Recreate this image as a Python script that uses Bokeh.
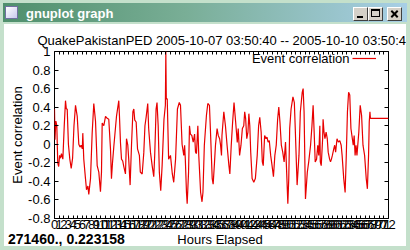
import math
from bokeh.plotting import figure
from bokeh.models import (Range1d, FixedTicker, LinearAxis, Label, Legend,
                          LegendItem, Div)
from bokeh.layouts import column, row
from bokeh.embed import file_html
from bokeh.resources import INLINE

# ---------------- data ----------------
hours = [
    0.0, 0.1, 0.3, 0.5, 0.7, 0.9, 1.1, 1.3, 1.5, 1.8, 2.1, 2.37, 2.55, 2.74,
    3.0, 3.3, 3.6, 3.9, 4.2, 4.53, 4.9, 5.24, 5.5, 5.75, 6.0, 6.1, 6.31, 6.68,
    6.9, 7.2, 7.39, 7.76, 8.12, 8.47, 8.84, 9.2, 9.55, 9.91, 10.13, 10.28,
    10.63, 11.0, 11.35, 11.7, 12.07, 12.28, 12.5, 12.78, 13.36, 13.86, 14.0,
    14.22, 14.44, 14.7, 14.94, 15.3, 15.52, 15.8, 16.0, 16.3, 16.6, 16.9,
    17.1, 17.3, 17.6, 17.9, 18.3, 18.5, 18.9, 19.25, 19.5, 19.75, 20.1, 20.3,
    20.7, 21.05, 21.4, 21.6, 21.9, 22.1, 22.35, 22.6, 22.9, 23.2, 23.6, 23.9,
    24.0, 24.1, 24.3, 24.6, 25.0, 25.4, 25.7, 26.1, 26.5, 26.9, 27.16, 27.5,
    27.87, 28.05, 28.2, 28.45, 28.6, 28.9, 29.1, 29.3, 29.6, 29.9, 30.2, 30.4,
    30.6, 30.9, 31.1, 31.5, 31.8, 32.0, 32.3, 32.75, 33.05, 33.4, 33.6, 34.0,
    34.2, 34.5, 34.7, 35.05, 35.3, 35.6, 35.8, 36.0, 36.1, 36.5, 36.85, 37.2,
    37.6, 37.8, 38.1, 38.4, 38.7, 39.05, 39.4, 39.6, 39.9, 40.2, 40.5, 40.8,
    41.0, 41.2, 41.45, 41.7, 41.9, 42.1, 42.3, 42.6, 42.96, 43.3, 43.7, 44.0,
    44.25, 44.55, 44.8, 45.0, 45.2, 45.3, 45.6, 45.8, 46.05, 46.3, 46.6, 46.9,
    47.2, 47.5, 47.8, 48.1, 48.35, 48.6, 48.9, 49.2, 49.5, 49.8, 50.1, 50.3,
    50.5, 50.7, 51.0, 51.4, 51.7, 51.9, 52.3, 52.7, 53.0, 53.4, 53.6, 53.8,
    54.1, 54.5, 54.8, 55.2, 55.5, 55.75, 55.96, 56.2, 56.5, 56.75, 56.97,
    57.2, 57.3, 57.5, 57.8, 57.9, 58.1, 58.3, 58.55, 58.8, 59.0, 59.3, 59.5,
    59.7, 59.9, 60.2, 60.4, 60.6, 60.9, 61.2, 61.5, 61.8, 62.0, 62.35, 62.65,
    62.9, 63.15, 63.4, 63.65, 63.9, 64.4, 64.6, 64.8, 65.0, 65.2, 65.6, 65.9,
    66.2, 66.5, 66.85, 67.2, 67.45, 67.7, 67.85, 68.0, 68.1, 72.0,
]
correlation = [
    0.38, 0.05, 0.25, 0.2, -0.2, -0.24, -0.12, -0.15, -0.1, -0.16, 0.2, 0.47,
    0.38, 0.38, 0.0, -0.16, -0.26, -0.15, 0.2, 0.42, 0.3, 0.0, -0.03, -0.01,
    -0.05, 0.12, -0.16, -0.37, -0.49, -0.45, -0.54, -0.37, 0.12, 0.44, 0.25,
    -0.23, -0.3, -0.51, -0.3, 0.23, 0.2, 0.3, 0.28, 0.27, -0.05, -0.37, -0.2,
    -0.03, 0.3, 0.47, 0.31, 0.02, -0.16, -0.18, -0.24, -0.32, 0.06, -0.01,
    -0.16, -0.44, -0.01, 0.35, 0.38, 0.26, 0.24, -0.05, -0.12, -0.3, -0.32,
    -0.09, 0.2, 0.29, 0.44, 0.17, -0.09, -0.23, -0.35, -0.12, 0.38, 0.45, 0.2,
    -0.3, -0.5, -0.23, 0.27, 0.42, 1.0, 0.49, 0.49, -0.16, -0.12, -0.32,
    -0.41, -0.16, 0.38, 0.45, 0.42, 0.0, -0.12, -0.01, -0.16, -0.52, -0.64,
    -0.3, 0.2, 0.11, 0.095, 0.023, 0.11, -0.085, -0.1, 0.2, -0.12, -0.52,
    -0.62, -0.52, -0.01, 0.31, 0.44, 0.42, 0.17, -0.37, -0.43, -0.19, -0.01,
    0.17, 0.095, 0.06, -0.01, -0.12, 0.095, 0.35, 0.2, -0.01, -0.23, -0.32,
    -0.01, 0.24, 0.45, 0.24, 0.02, 0.17, -0.12, -0.01, 0.17, 0.2, 0.35, 0.28,
    0.06, 0.13, 0.33, 0.2, -0.085, -0.37, -0.41, -0.37, -0.12, 0.2, 0.29,
    0.13, -0.19, -0.23, -0.01, 0.095, 0.06, 0.077, 0.023, 0.04, -0.12, -0.23,
    -0.35, -0.12, -0.01, 0.27, 0.4, 0.24, -0.01, -0.085, -0.19, 0.023, -0.37,
    -0.64, -0.37, 0.17, 0.38, 0.51, 0.45, 0.17, -0.44, -0.12, 0.35, 0.56,
    0.6, 0.35, -0.59, -0.3, -0.19, -0.01, 0.2, 0.42, 0.15, -0.19, -0.16,
    -0.01, -0.12, 0.2, -0.19, -0.23, 0.06, 0.27, 0.13, 0.06, 0.13, 0.06,
    -0.085, -0.16, -0.19, -0.16, -0.12, -0.05, -0.01, -0.085, 0.06, 0.023,
    0.04, -0.01, -0.12, -0.37, -0.52, -0.12, 0.35, 0.56, 0.53, 0.17, -0.01,
    0.095, -0.12, -0.01, -0.12, 0.13, 0.42, 0.31, -0.01, -0.12, -0.37, -0.48,
    -0.12, 0.24, 0.35, 0.28, 0.28,
]
x_ticks = list(range(0, 73))
y_ticks = [-0.8, -0.6, -0.4, -0.2, 0.0, 0.2, 0.4, 0.6, 0.8, 1.0]
y_tick_labels = ["-0.8", "-0.6", "-0.4", "-0.2", "0", "0.2", "0.4", "0.6",
                 "0.8", "1"]
title_text = "QuakePakistanPED 2005-10-07 03:50:40 -- 2005-10-10 03:50:40"
series_name = "Event correlation"
x_label = "Hours Elapsed"
y_label = "Event correlation"
status_text = "271460., 0.223158"
window_title = "gnuplot graph"

FONT = "Liberation Sans"
FS = "13px"
GREEN = "#c4e0cb"

# ---------------- main plot ----------------
p = figure(width=402, height=210, output_backend="svg", toolbar_location=None,
           x_range=Range1d(0, 72), y_range=Range1d(-0.8, 1.0),
           min_border_left=50, min_border_right=18, min_border_top=27,
           min_border_bottom=16, background_fill_color="white",
           border_fill_color="white", outline_line_color="black",
           outline_line_width=1)
p.grid.visible = False

p.title.text = title_text
p.title.text_font = FONT
p.title.text_font_size = FS
p.title.text_font_style = "normal"
p.title.text_color = "black"
p.title.align = "left"
p.title.offset = -17
p.title.standoff = 7


def style_axis(ax, ticks, labels=True, tick_len=3, standoff=2):
    ax.ticker = FixedTicker(ticks=ticks)
    ax.major_tick_in = tick_len
    ax.major_tick_out = 0
    ax.minor_tick_line_color = None
    ax.axis_line_color = None
    ax.major_tick_line_color = "black"
    ax.major_label_text_font = FONT
    ax.major_label_text_font_size = FS
    ax.major_label_standoff = standoff
    if labels:
        ax.major_label_text_color = "black"
    else:
        ax.major_label_text_color = None
        ax.major_label_standoff = 0


style_axis(p.xaxis[0], x_ticks, True, 3, 1)
style_axis(p.yaxis[0], y_ticks, True, 4, 4)
p.yaxis[0].major_label_overrides = dict(zip(y_ticks, y_tick_labels))
p.yaxis[0].axis_label = y_label
p.yaxis[0].axis_label_text_font = FONT
p.yaxis[0].axis_label_text_font_size = FS
p.yaxis[0].axis_label_text_font_style = "normal"
p.yaxis[0].axis_label_text_color = "black"
p.yaxis[0].axis_label_standoff = 0

top_ax = LinearAxis()
style_axis(top_ax, x_ticks, False, 3)
p.add_layout(top_ax, "above")
right_ax = LinearAxis()
style_axis(right_ax, y_ticks, False, 4)
p.add_layout(right_ax, "right")

r = p.line(hours, correlation, line_color="#e80000", line_width=1.2)

legend = Legend(items=[LegendItem(label=" ", renderers=[r])],
                location="top_right", margin=0, padding=0, label_standoff=12,
                label_width=0, glyph_width=24, glyph_height=14,
                label_height=14, label_text_font_size=FS,
                border_line_color=None, background_fill_alpha=0)
p.add_layout(legend)
p.add_layout(Label(x=295, y=160, x_units="screen", y_units="screen",
                   text=series_name, text_font=FONT, text_font_size=FS,
                   text_color="black", text_align="right",
                   text_baseline="middle"))

# ---------------- status strip (x label + mouse position) ----------------
strip_html = f"""
<div style="position:relative;width:402px;height:12px;background:#ffffff;">
 <span style="position:absolute;left:4px;top:-2px;font:bold 14px 'Liberation Sans';
       line-height:14px;color:#000;white-space:nowrap;">{status_text}</span>
 <span style="position:absolute;left:216px;top:-1px;transform:translateX(-50%);
       font:13px 'Liberation Sans';line-height:13px;color:#000;white-space:nowrap;">{x_label}</span>
</div>
"""
strip = Div(text=strip_html, width=402, height=12,
            styles={"margin": "0", "padding": "0", "background-color": "white"})

# ---------------- window chrome ----------------
btn = ("position:absolute;top:7px;width:15px;height:14px;box-sizing:border-box;"
       "background:#d4d0c8;border:1px solid;border-color:#ffffff #404040 #404040 #ffffff;")
title_html = f"""
<div style="position:relative;width:410px;height:24px;background:{GREEN};overflow:hidden;">
 <div style="position:absolute;left:3px;top:3px;width:404px;height:19px;
      background:linear-gradient(to right,#4f8f6c 0%,#79ae96 45%,#a8cfe6 100%);"></div>
 <div style="position:absolute;left:5px;top:6px;width:13px;height:13px;box-sizing:border-box;
      background:linear-gradient(135deg,#ffffff,#c8c8ee);border:1px solid #7070a0;"></div>
 <div style="position:absolute;left:26px;top:6px;font:bold 13px 'Liberation Sans';
      line-height:15px;color:#ffffff;white-space:nowrap;">{window_title}</div>
 <div style="{btn}left:353px;"><div style="position:absolute;left:3px;top:8px;width:6px;height:2px;background:#000;"></div></div>
 <div style="{btn}left:368px;"><div style="position:absolute;left:2px;top:1px;width:9px;height:8px;box-sizing:border-box;border:1px solid #000;border-top:2px solid #000;"></div></div>
 <div style="{btn}left:387px;">
   <div style="position:absolute;left:2px;top:5px;width:9px;height:2px;background:#000;transform:rotate(45deg);"></div>
   <div style="position:absolute;left:2px;top:5px;width:9px;height:2px;background:#000;transform:rotate(-45deg);"></div>
 </div>
</div>
"""
title_div = Div(text=title_html, width=410, height=24,
                styles={"margin": "0", "padding": "0"})
left_div = Div(text="", width=4, height=222,
               styles={"background-color": GREEN, "margin": "0"})
right_div = Div(text="", width=4, height=222,
                styles={"background-color": GREEN, "margin": "0"})
bottom_div = Div(text="", width=410, height=4,
                 styles={"background-color": GREEN, "margin": "0"})

layout = column(title_div, row(left_div, column(p, strip), right_div),
                bottom_div)

open("out.html", "w").write(file_html(layout, INLINE))
